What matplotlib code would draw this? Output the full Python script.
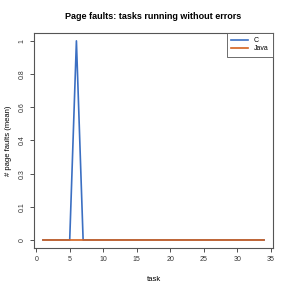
import numpy as np
import matplotlib.pyplot as plt

plt.rcParams['font.family'] = ['Liberation Sans', 'DejaVu Sans']

# datos
tasks = np.arange(1, 35)
c_faults = [0, 0, 0, 0, 0, 1, 0, 0, 0, 0, 0, 0, 0, 0, 0, 0, 0,
            0, 0, 0, 0, 0, 0, 0, 0, 0, 0, 0, 0, 0, 0, 0, 0, 0]
java_faults = [0] * 34
yticks = np.linspace(0, 1, 7)
ylabels = ["0", "0.1", "0.3", "0.4", "0.6", "0.8", "1"]
xticks = [0, 5, 10, 15, 20, 25, 30, 35]

fig = plt.figure(figsize=(2.91, 2.91), dpi=100)
ax = fig.add_axes([0.117, 0.148, 0.821, 0.739])

ax.plot(tasks, c_faults, color="#3b6fc2", lw=1.2, label="C")
ax.plot(tasks, java_faults, color="#d4621e", lw=1.2, label="Java")

ax.set_xlim(-0.32, 35.32)
ax.set_ylim(-0.04, 1.04)
ax.set_xticks(xticks)
ax.set_yticks(yticks)
ax.set_yticklabels(ylabels, rotation=90, va="center")

for s in ax.spines.values():
    s.set_color("#555555")
    s.set_linewidth(0.8)
ax.tick_params(labelsize=5, colors="#333333", length=3, width=0.6, direction="out", pad=3)

ax.set_title("Page faults: tasks running without errors", fontsize=6.5, fontweight="bold", pad=10)
ax.set_xlabel("task", fontsize=5.5, labelpad=9)
ax.set_ylabel("# page faults (mean)", fontsize=5.5, labelpad=5)

leg = ax.legend(loc="upper right", fontsize=5, borderaxespad=0, fancybox=False,
                handlelength=2.5, framealpha=1, borderpad=0.6, labelspacing=0.2)
leg.get_frame().set_edgecolor("#555555")
leg.get_frame().set_linewidth(0.6)

plt.savefig("out.png", dpi=100)
